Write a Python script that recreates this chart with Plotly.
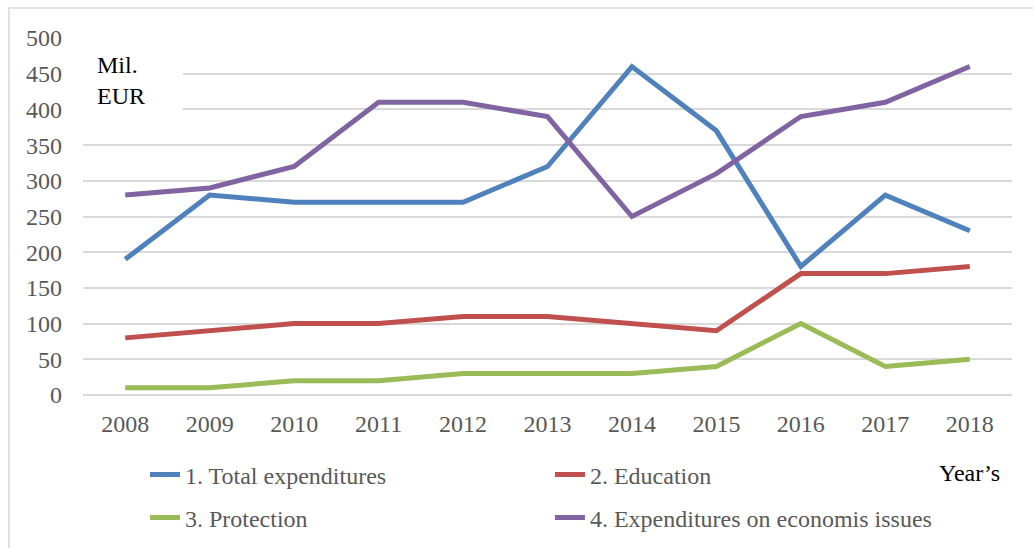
import plotly.graph_objects as go

# Years on the horizontal axis
years = ["2008", "2009", "2010", "2011", "2012", "2013", "2014", "2015", "2016", "2017", "2018"]

# Expenditures, Mil. EUR
total_expenditures = [190, 280, 270, 270, 270, 320, 460, 370, 180, 280, 230]
education = [80, 90, 100, 100, 110, 110, 100, 90, 170, 170, 180]
protection = [10, 10, 20, 20, 30, 30, 30, 40, 100, 40, 50]
economic_issues = [280, 290, 320, 410, 410, 390, 250, 310, 390, 410, 460]

series_names = [
    "1. Total expenditures",
    "2. Education",
    "3. Protection",
    "4. Expenditures on economis issues",
]
series_values = [total_expenditures, education, protection, economic_issues]
series_colors = ["#4F81BD", "#C0504D", "#9BBB59", "#8064A2"]
# first two series in the top legend row, the other two in the second row
series_legend = ["legend", "legend", "legend2", "legend2"]

y_ticks = [0, 50, 100, 150, 200, 250, 300, 350, 400, 450, 500]

FONT = "Liberation Serif"
GREY_TEXT = "#595959"
GRID = "#D9D9D9"

fig = go.Figure()
for name, vals, col, leg in zip(series_names, series_values, series_colors, series_legend):
    fig.add_trace(go.Scatter(
        x=years, y=vals, name=name, mode="lines",
        line=dict(color=col, width=5), legend=leg,
    ))

legend_style = dict(
    orientation="h", xanchor="left", yanchor="middle",
    entrywidth=360, entrywidthmode="pixels",
    font=dict(family=FONT, size=24, color=GREY_TEXT),
    bgcolor="rgba(0,0,0,0)",
)

fig.update_layout(
    width=1033, height=548,
    margin=dict(l=83, r=21, t=38, b=153, autoexpand=False),
    paper_bgcolor="white", plot_bgcolor="white",
    font=dict(family=FONT, size=24, color=GREY_TEXT),
    showlegend=True,
    legend=dict(x=0.0667, y=-0.224, **legend_style),
    legend2=dict(x=0.0667, y=-0.3445, **legend_style),
    xaxis=dict(
        type="category", range=[-0.5, 10.5],
        showgrid=False, showline=False, zeroline=False,
        ticks="", ticklabelstandoff=12,
        tickfont=dict(family=FONT, size=24, color=GREY_TEXT),
    ),
    yaxis=dict(
        range=[0, 500], tickmode="array", tickvals=y_ticks,
        showgrid=True, gridcolor=GRID, gridwidth=1.5,
        zeroline=True, zerolinecolor=GRID, zerolinewidth=1.5,
        showline=False, ticks="", ticklabelstandoff=20,
        tickfont=dict(family=FONT, size=24, color=GREY_TEXT),
    ),
)

# Outer chart frame
fig.add_shape(type="rect", xref="paper", yref="paper",
              x0=-0.0797, x1=1.05, y0=-0.5, y1=1.084,
              line=dict(color=GRID, width=1.5), fillcolor="rgba(0,0,0,0)",
              layer="below")

# Unit label box over the top-left gridlines
fig.add_shape(type="rect", xref="paper", yref="paper",
              x0=0.0, x1=0.1076, y0=0.74, y1=1.02,
              line=dict(width=0), fillcolor="white", layer="above")
fig.add_annotation(xref="paper", yref="paper", x=0.013, y=0.88,
                   xanchor="left", yanchor="middle", align="left",
                   text="Mil.<br>EUR", showarrow=False,
                   font=dict(family=FONT, size=24, color="black"))

fig.add_annotation(xref="paper", yref="paper", x=0.954, y=-0.218,
                   xanchor="center", yanchor="middle",
                   text="Year\u2019s", showarrow=False,
                   font=dict(family=FONT, size=24, color="black"))

fig.write_html("out.html")
